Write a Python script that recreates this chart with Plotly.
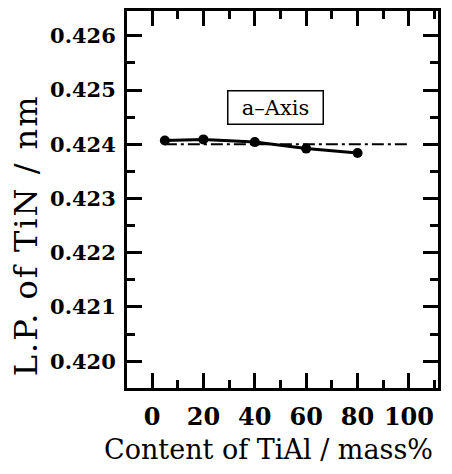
import plotly.graph_objects as go

content = [5, 20, 40, 60, 80]
lattice = [0.42407, 0.42409, 0.42404, 0.42392, 0.42384]
ref_x = [5, 100]
ref_y = [0.4240, 0.4240]
x_ticks = [0, 20, 40, 60, 80, 100]
y_ticks = [0.420, 0.421, 0.422, 0.423, 0.424, 0.425, 0.426]
y_tick_labels = ["0.420", "0.421", "0.422", "0.423", "0.424", "0.425", "0.426"]

FONT = "DejaVu Serif"

fig = go.Figure()
fig.add_trace(go.Scatter(x=ref_x, y=ref_y, mode="lines",
                         line=dict(color="black", width=1.8, dash="12px,4px,3px,4px"),
                         showlegend=False))
fig.add_trace(go.Scatter(x=content, y=lattice, mode="lines+markers",
                         line=dict(color="black", width=3),
                         marker=dict(color="black", size=10),
                         showlegend=False))

fig.update_xaxes(range=[-9.73, 111.3], tickvals=x_ticks,
                 ticks="inside", ticklen=15, tickwidth=2.5, tickcolor="black",
                 minor=dict(dtick=10, ticks="inside", ticklen=8, tickwidth=2.5, tickcolor="black"),
                 showline=True, linecolor="black", linewidth=3, mirror="allticks",
                 showgrid=False, zeroline=False, ticklabelstandoff=5,
                 tickfont=dict(family=FONT, size=24, color="black", weight="bold"))
fig.update_yaxes(range=[0.419506, 0.426457], tickvals=y_ticks, ticktext=y_tick_labels,
                 ticks="inside", ticklen=15, tickwidth=2.5, tickcolor="black",
                 minor=dict(dtick=0.0005, ticks="inside", ticklen=8, tickwidth=2.5, tickcolor="black"),
                 showline=True, linecolor="black", linewidth=3, mirror="allticks",
                 showgrid=False, zeroline=False, ticklabelstandoff=4,
                 tickfont=dict(family=FONT, size=21, color="black", weight="bold"))

fig.add_annotation(x=48, y=0.42468, text="a\u2013Axis", showarrow=False,
                   font=dict(family=FONT, size=21, color="black"),
                   width=88, height=26,
                   bordercolor="black", borderwidth=1.5, borderpad=3, bgcolor="white")
fig.add_annotation(xref="paper", yref="paper", x=(268-127)/311, y=-(450-388)/380,
                   text="Content of TiAl / mass%", showarrow=False,
                   xanchor="center", yanchor="middle",
                   font=dict(family=FONT, size=27, color="black"))
fig.add_annotation(xref="paper", yref="paper", x=-(127-26)/311, y=(388-234)/380,
                   text='<span style="letter-spacing:2px">L.P. of TiN / nm</span>',
                   showarrow=False, textangle=-90,
                   xanchor="center", yanchor="middle",
                   font=dict(family=FONT, size=32, color="black"))

fig.update_layout(width=452, height=474,
                  margin=dict(l=127, r=14, t=8, b=86),
                  plot_bgcolor="white", paper_bgcolor="white")
fig.write_html("out.html")
